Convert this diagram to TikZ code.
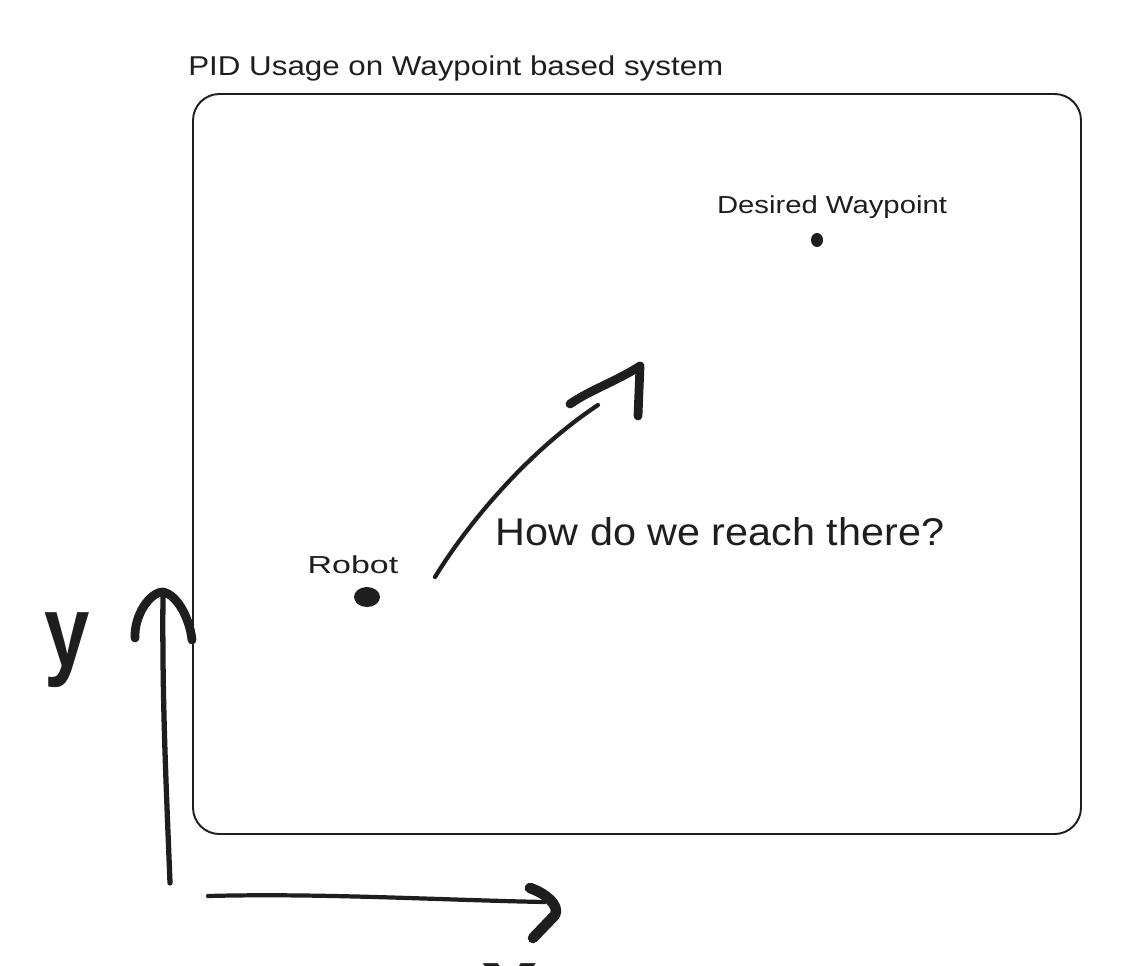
\documentclass[tikz,border=0pt]{standalone}
\usepackage{fontspec}
\setmainfont{Liberation Sans}
\definecolor{ink}{HTML}{1E1E1E}
\begin{document}
\begin{tikzpicture}[x=0.02cm,y=-0.02cm,
  thin line/.style={draw=ink,line width=1.1pt},
  shaft/.style={draw=ink,line width=2.4pt,line cap=round,line join=round},
  head/.style={draw=ink,line width=5pt,line cap=round,line join=round},
  lbl/.style={text=ink,inner sep=0pt,font=\fontsize{14}{16}\selectfont},
  big/.style={text=ink,inner sep=0pt,font=\fontsize{58}{64}\selectfont}]
\useasboundingbox (0,0) rectangle (1136,965);
\clip (0,0) rectangle (1136,965);
% frame
\draw[thin line,rounded corners=15pt] (193,94) rectangle (1081,834);
% texts
\node[lbl,anchor=base west,font=\fontsize{15.5}{18}\selectfont] (title) at (188,75) {\scalebox{1.15}[1]{PID Usage on Waypoint based system}};
\node[lbl,anchor=base] (dwlbl) at (832,213) {\scalebox{1.19}[1]{Desired Waypoint}};
\node[lbl,anchor=base] (roblbl) at (353,573) {\scalebox{1.38}[1]{Robot}};
\node[lbl,anchor=base,font=\fontsize{22}{26}\selectfont] (q) at (720,545) {\scalebox{1.07}[1]{How do we reach there?}};
% dots
\fill[ink] (817,240) ellipse [x radius=6, y radius=7];
\node[inner sep=0pt,minimum size=0pt] (dw) at (817,240) {};
\fill[ink] (367,597) ellipse [x radius=13, y radius=10];
\node[inner sep=0pt,minimum size=0pt] (robot) at (367,597) {};
% curved arrow
\coordinate (a0) at (435,577);
\coordinate (a1) at (598,405);
\coordinate (ah) at (640,366);
\draw[shaft] (a0) .. controls (470,520) and (530,450) .. (a1);
\draw[head] (570,404) .. controls (590,390) and (615,382) .. (ah) -- (638,416);
% y axis
\coordinate (y0) at (170,883);
\coordinate (y1) at (163,592);
\draw[shaft,line width=3pt] (y0) .. controls (166,780) and (162,700) .. (y1);
\draw[head] (135,638) .. controls (134,615) and (150,592) .. (y1) .. controls (178,595) and (190,620) .. (192,640);
\node[big,anchor=base] (ylbl) at (67,666) {\scalebox{0.8}[1]{\bfseries y}};
% x axis
\coordinate (x0) at (208,896);
\coordinate (x1) at (545,902);
\draw[shaft] (x0) .. controls (320,893) and (440,900) .. (x1);
\draw[head,line width=6pt] (530,888) .. controls (545,893) and (560,905) .. (555,915) -- (533,938);
\node[big,anchor=base] (xlbl) at (510,1017) {\bfseries x};
\end{tikzpicture}
\end{document}
